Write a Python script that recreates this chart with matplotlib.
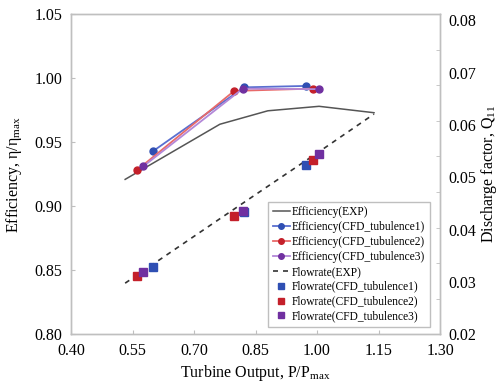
import numpy as np
import matplotlib
matplotlib.use("Agg")
import matplotlib.pyplot as plt

plt.rcParams['font.family'] = ['Liberation Serif', 'DejaVu Serif']
plt.rcParams['mathtext.fontset'] = 'custom'
plt.rcParams['mathtext.rm'] = 'Liberation Serif'
plt.rcParams['mathtext.it'] = 'Liberation Serif:italic'

# experiment
exp_x = [0.532, 0.763, 0.880, 1.005, 1.139]
exp_eff = [0.921, 0.964, 0.9745, 0.978, 0.973]
exp_q = [0.0298, 0.0421, 0.0483, 0.0549, 0.0621]

# CFD, three turbulence models
cfd1_x = [0.600, 0.822, 0.973]
cfd1_eff = [0.943, 0.9928, 0.9939]
cfd1_q = [0.0329, 0.0434, 0.0523]

cfd2_x = [0.560, 0.798, 0.990]
cfd2_eff = [0.928, 0.990, 0.9918]
cfd2_q = [0.0311, 0.0426, 0.0534]

cfd3_x = [0.576, 0.819, 1.004]
cfd3_eff = [0.9311, 0.9918, 0.9914]
cfd3_q = [0.0320, 0.0435, 0.0544]

blue, red, purple = '#2f4fb3', '#c4202a', '#7030a0'
blue_l, red_l, purple_l = '#5a6fd0', '#e86a6a', '#b388d8'
grid_c = '#bfbfbf'

fig = plt.figure(figsize=(5.03, 3.85), dpi=100)
ax = fig.add_axes([0.1412, 0.1312, 0.7336, 0.8324])
ax2 = ax.twinx()

l1, = ax.plot(exp_x, exp_eff, color='#555555', lw=1.1)
l2, = ax.plot(cfd1_x, cfd1_eff, color=blue_l, lw=1.3, marker='o', ms=5,
              mfc=blue, mec=blue)
l3, = ax.plot(cfd2_x, cfd2_eff, color=red_l, lw=1.3, marker='o', ms=5,
              mfc=red, mec=red)
l4, = ax.plot(cfd3_x, cfd3_eff, color=purple_l, lw=1.3, marker='o', ms=5,
              mfc=purple, mec=purple)

l5, = ax2.plot(exp_x, exp_q, color='#333333', lw=1.2, ls=(0, (3, 3)))
l6, = ax2.plot(cfd1_x, cfd1_q, ls='none', marker='s', ms=5.5, color=blue)
l7, = ax2.plot(cfd2_x, cfd2_q, ls='none', marker='s', ms=5.5, color=red)
l8, = ax2.plot(cfd3_x, cfd3_q, ls='none', marker='s', ms=5.5, color=purple)

ax.set_xlim(0.40, 1.30)
ax.set_ylim(0.80, 1.05)
ax.set_xticks(np.arange(0.40, 1.31, 0.15))
ax.set_xticklabels(['0.40', '0.55', '0.70', '0.85', '1.00', '1.15', '1.30'])
ax.set_yticks(np.arange(0.80, 1.051, 0.05))
ax.set_yticklabels(['0.80', '0.85', '0.90', '0.95', '1.00', '1.05'])

ax2.set_ylim(0.02, 0.0812)
ax2.set_yticks([0.02, 0.03, 0.04, 0.05, 0.06, 0.07, 0.08])
ax2.set_yticklabels(['0.02', '0.03', '0.04', '0.05', '0.06', '0.07', '0.08'])
ax2.set_yticks(np.linspace(0.02, 0.0812, 10), minor=True)

for a in (ax, ax2):
    for s in a.spines.values():
        s.set_color(grid_c)
        s.set_linewidth(1.0)
ax.tick_params(direction='in', length=3, color=grid_c, labelsize=11.5, pad=6)
ax2.tick_params(axis='y', which='major', length=0, labelsize=11.5, pad=6)
ax2.tick_params(axis='y', which='minor', direction='in', length=3, color=grid_c)

ax.set_xlabel('Turbine Output, P/P$_{\\mathrm{max}}$', fontsize=11.5, labelpad=3)
ax.set_ylabel('Efficiency, η/η$_{\\mathrm{max}}$', fontsize=11.5, labelpad=8)
ax2.set_ylabel('Discharge factor, Q$_{11}$', fontsize=11.5, labelpad=2)

leg = ax2.legend([l1, l2, l3, l4, l5, l6, l7, l8],
                 ['Efficiency(EXP)', 'Efficiency(CFD_tubulence1)',
                  'Efficiency(CFD_tubulence2)', 'Efficiency(CFD_tubulence3)',
                  'Flowrate(EXP)', 'Flowrate(CFD_tubulence1)',
                  'Flowrate(CFD_tubulence2)', 'Flowrate(CFD_tubulence3)'],
                 loc='lower right', bbox_to_anchor=(0.973, 0.023),
                 borderaxespad=0, fontsize=8.3, fancybox=False,
                 edgecolor=grid_c, framealpha=1, handlelength=1.5,
                 handletextpad=0.2, labelspacing=0.25, borderpad=0.4,
                 markerscale=0.8)
leg.get_frame().set_linewidth(1.0)

fig.savefig('out.png', dpi=100)
